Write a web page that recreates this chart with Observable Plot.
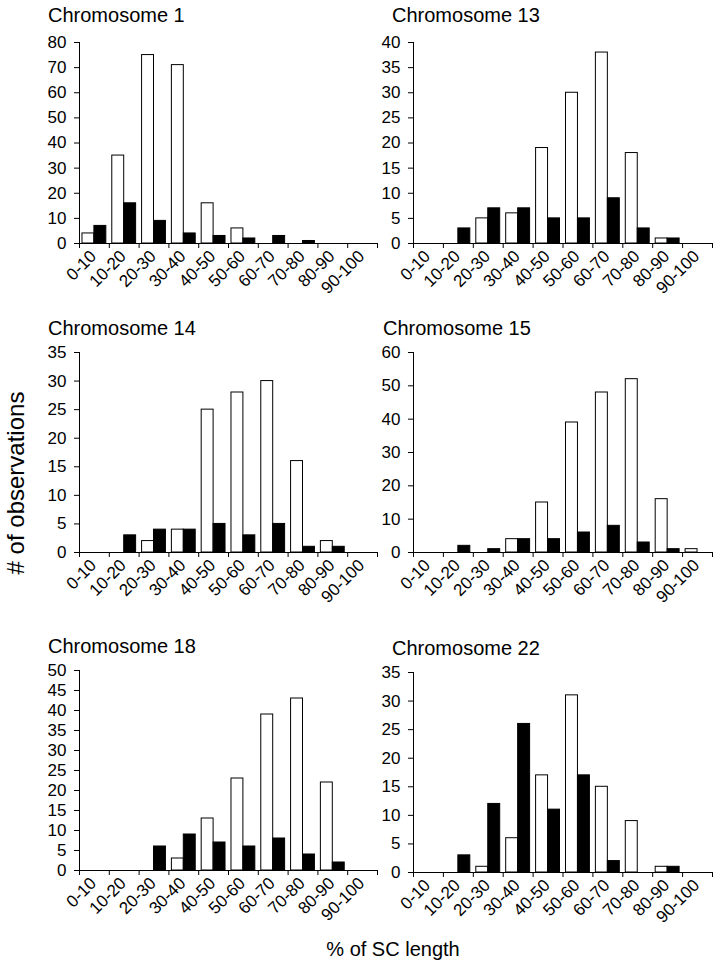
<!DOCTYPE html>
<html>
<head>
<meta charset="utf-8">
<script src="https://cdn.jsdelivr.net/npm/d3@7"></script>
<script src="https://cdn.jsdelivr.net/npm/@observablehq/plot@0.6"></script>
<style>
  html, body { margin: 0; padding: 0; background: white; }
  #page { position: relative; width: 720px; height: 968px; font-family: "Liberation Sans", Arial, sans-serif; color: black; overflow: hidden; }
  .panel { position: absolute; }
  .title { position: absolute; font-size: 20px; line-height: 20px; white-space: nowrap; }
  .xlabel { position: absolute; font-size: 20px; line-height: 20px; white-space: nowrap; transform: translateX(-50%); }
  .ylabel { position: absolute; font-size: 24px; line-height: 24px; white-space: nowrap; transform: translate(-50%, -50%) rotate(-90deg); }
</style>
</head>
<body>
<div id="page"></div>
<script>
// ---- data ----
const categories = ["0-10","10-20","20-30","30-40","40-50","50-60","60-70","70-80","80-90","90-100"];

const chr1White  = [4, 35, 75, 71, 16, 6, 0, 0, 0, 0];
const chr1Black  = [7, 16, 9, 4, 3, 2, 3, 1, 0, 0];
const chr13White = [0, 0, 5, 6, 19, 30, 38, 18, 1, 0];
const chr13Black = [0, 3, 7, 7, 5, 5, 9, 3, 1, 0];
const chr14White = [0, 0, 2, 4, 25, 28, 30, 16, 2, 0];
const chr14Black = [0, 3, 4, 4, 5, 3, 5, 1, 1, 0];
const chr15White = [0, 0, 0, 4, 15, 39, 48, 52, 16, 1];
const chr15Black = [0, 2, 1, 4, 4, 6, 8, 3, 1, 0];
const chr18White = [0, 0, 0, 3, 13, 23, 39, 43, 22, 0];
const chr18Black = [0, 0, 6, 9, 7, 6, 8, 4, 2, 0];
const chr22White = [0, 0, 1, 6, 17, 31, 15, 9, 1, 0];
const chr22Black = [0, 3, 12, 26, 11, 17, 2, 0, 1, 0];

const titles = ["Chromosome 1", "Chromosome 13", "Chromosome 14", "Chromosome 15", "Chromosome 18", "Chromosome 22"];
const yMaxes = [80, 40, 35, 60, 50, 35];
const ySteps = [10, 5, 5, 10, 5, 5];
const yAxisLabel = "# of observations";
const xAxisLabel = "% of SC length";

// ---- layout ----
const layout = [
  {left: 0,   top: 0,   width: 390, height: 320, ml: 79, mr: 13, mt: 42, mb: 77, tx: 48,  tt: 5},
  {left: 360, top: 0,   width: 360, height: 320, ml: 53, mr: 8,  mt: 42, mb: 77, tx: 392, tt: 5},
  {left: 0,   top: 310, width: 390, height: 320, ml: 79, mr: 13, mt: 42, mb: 78, tx: 48,  tt: 318},
  {left: 360, top: 310, width: 360, height: 320, ml: 53, mr: 8,  mt: 42, mb: 78, tx: 383, tt: 318},
  {left: 0,   top: 628, width: 390, height: 340, ml: 79, mr: 13, mt: 42, mb: 98, tx: 48,  tt: 636},
  {left: 360, top: 630, width: 360, height: 338, ml: 53, mr: 8,  mt: 42, mb: 96, tx: 392, tt: 638}
];

const whites = [chr1White, chr13White, chr14White, chr15White, chr18White, chr22White];
const blacks = [chr1Black, chr13Black, chr14Black, chr15Black, chr18Black, chr22Black];

const page = document.getElementById("page");
const FS = 17;

function makePanel(k) {
  const L = layout[k];
  const white = categories.map((c, i) => ({i, value: whites[k][i]})).filter(d => d.value > 0);
  const black = categories.map((c, i) => ({i, value: blacks[k][i]})).filter(d => d.value > 0);
  const chart = Plot.plot({
    width: L.width,
    height: L.height,
    marginLeft: L.ml,
    marginRight: L.mr,
    marginTop: L.mt,
    marginBottom: L.mb,
    style: {background: "transparent", overflow: "visible", fontFamily: "'Liberation Sans', Arial, sans-serif", fontSize: FS + "px", color: "black"},
    x: {domain: [0, categories.length], axis: null},
    y: {domain: [0, yMaxes[k]], axis: null},
    marks: [
      Plot.rectY(white, {x1: d => d.i + 0.1, x2: d => d.i + 0.5, y1: 0, y2: "value", fill: "white", stroke: "black", strokeWidth: 1}),
      Plot.rectY(black, {x1: d => d.i + 0.5, x2: d => d.i + 0.9, y1: 0, y2: "value", fill: "black", stroke: "black", strokeWidth: 1}),
      Plot.ruleX([0], {stroke: "black", strokeWidth: 1}),
      Plot.ruleY([0], {stroke: "black", strokeWidth: 1}),
      Plot.axisY({anchor: "left", label: null, ticks: d3.range(0, yMaxes[k] + ySteps[k] / 2, ySteps[k]), tickSize: 5, tickPadding: 8, tickFormat: d => String(d), fontSize: FS, stroke: "black", fill: "black"}),
      Plot.axisX({anchor: "bottom", label: null, ticks: d3.range(0, categories.length + 1), tickSize: 5, tickFormat: () => "", stroke: "black"}),
      Plot.text(categories, {x: (d, i) => i + 0.5, frameAnchor: "bottom", dy: 10, dx: -1, rotate: -45, textAnchor: "end", lineAnchor: "middle", fontSize: FS, fill: "black"})
    ]
  });
  chart.classList.add("panel");
  chart.style.position = "absolute";
  chart.style.left = L.left + "px";
  chart.style.top = L.top + "px";
  page.appendChild(chart);

  const t = document.createElement("div");
  t.className = "title";
  t.textContent = titles[k];
  t.style.left = L.tx + "px";
  t.style.top = L.tt + "px";
  page.appendChild(t);
}

for (let k = 0; k < 6; k++) makePanel(k);

const yl = document.createElement("div");
yl.className = "ylabel";
yl.textContent = yAxisLabel;
yl.style.left = "16px";
yl.style.top = "483px";
page.appendChild(yl);

const xl = document.createElement("div");
xl.className = "xlabel";
xl.textContent = xAxisLabel;
xl.style.left = "393px";
xl.style.top = "939px";
page.appendChild(xl);
</script>
</body>
</html>
